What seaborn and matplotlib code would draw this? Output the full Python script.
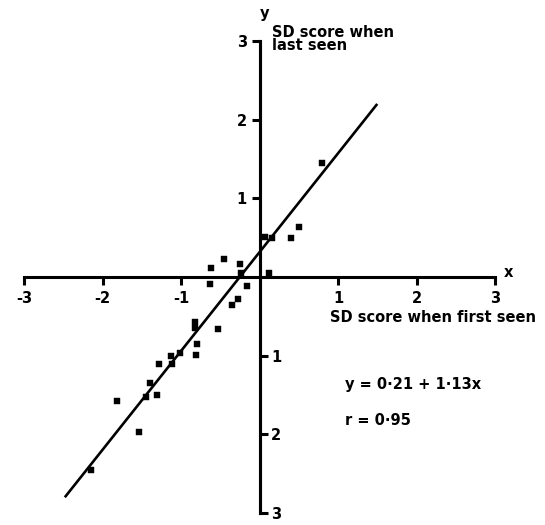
import numpy as np
import pandas as pd
import matplotlib
matplotlib.use("Agg")
import matplotlib.pyplot as plt
import seaborn as sns

# SD scores
first_seen = [0.80, 0.50, 0.40, 0.07, 0.155, 0.125, -0.45, -0.62, -0.25, -0.24,
              -0.63, -0.155, -0.28, -0.35, -0.525, -0.82, -0.82, -0.80, -0.81,
              -1.01, -1.13, -1.11, -1.28, -1.40, -1.44, -1.30, -1.81, -1.53, -2.15]
last_seen = [1.445, 0.63, 0.50, 0.51, 0.50, 0.055, 0.225, 0.11, 0.17, 0.055,
             -0.09, -0.12, -0.28, -0.36, -0.66, -0.57, -0.65, -0.855, -0.99,
             -0.96, -1.00, -1.105, -1.105, -1.35, -1.52, -1.495, -1.58, -1.965, -2.45]

# drawn regression line (end points as seen)
fit_x = [-2.48, 1.50]
fit_y = [-2.80, 2.20]

x_ticks = [-3, -2, -1, 1, 2, 3]
x_tick_labels = ["-3", "-2", "-1", "1", "2", "3"]
y_ticks_pos = [1, 2, 3]
y_ticks_neg = [-1, -2, -3]
y_tick_labels_neg = ["1", "2", "3"]

equation = "y = 0·21 + 1·13x"
corr = "r = 0·95"

df = pd.DataFrame({"first": first_seen, "last": last_seen})

sns.set_theme(style="white")
plt.rcParams["font.family"] = ["DejaVu Sans"]
plt.rcParams["text.color"] = "black"
plt.rcParams["xtick.color"] = "black"
plt.rcParams["ytick.color"] = "black"
plt.rcParams["xtick.labelcolor"] = "black"
plt.rcParams["ytick.labelcolor"] = "black"
FS = 10.5
WEIGHT = "bold"

fig = plt.figure(figsize=(5.45, 5.25), dpi=100)
ax = fig.add_axes([24 / 545, 12 / 525, 471 / 545, 472 / 525])
ax.set_xlim(-3, 3)
ax.set_ylim(-3, 3)

lw_axis = 2.2
for side in ["left", "right", "bottom"]:
    ax.spines[side].set_position(("data", 0))
    ax.spines[side].set_linewidth(lw_axis)
    ax.spines[side].set_color("black")
ax.spines["top"].set_visible(False)

ax.plot(fit_x, fit_y, color="black", linewidth=1.9, solid_capstyle="butt", zorder=3)
sns.scatterplot(data=df, x="first", y="last", marker="s", s=22, color="black",
                edgecolor="black", linewidth=0.3, ax=ax, zorder=4, clip_on=False)

ax.set_xlabel("")
ax.set_ylabel("")

ax.set_xticks(x_ticks)
ax.set_xticklabels(x_tick_labels)
ax.set_yticks(y_ticks_pos)
ax.set_yticklabels([str(t) for t in y_ticks_pos])
ax.set_yticks(y_ticks_neg, minor=True)
ax.set_yticklabels(y_tick_labels_neg, minor=True)

ax.tick_params(axis="x", which="major", direction="out", length=6, width=lw_axis,
               bottom=True, top=False, labelsize=FS, pad=4, colors="black")
ax.tick_params(axis="y", which="major", direction="out", length=6, width=lw_axis,
               left=True, right=False, labelleft=True, labelright=False,
               labelsize=FS, pad=3, colors="black")
ax.tick_params(axis="y", which="minor", direction="out", length=6, width=lw_axis,
               left=False, right=True, labelleft=False, labelright=True,
               labelsize=FS, pad=2.5, colors="black")
for lab in ax.get_xticklabels() + ax.get_yticklabels() + ax.get_yticklabels(minor=True):
    lab.set_fontweight(WEIGHT)

txt = dict(fontsize=FS, fontweight=WEIGHT, color="black", clip_on=False)
ax.text(0.06, 3.35, "y", ha="center", va="center", **txt)
ax.text(0.16, 3.20, "SD score when\nlast seen", ha="left", va="top", linespacing=0.85, **txt)
ax.text(3.17, 0.06, "x", ha="center", va="center", **txt)
ax.text(0.90, -0.52, "SD score when first seen", ha="left", va="center", **txt)
ax.text(1.09, -1.37, equation, ha="left", va="center", **txt)
ax.text(1.09, -1.82, corr, ha="left", va="center", **txt)

fig.savefig("out.png", dpi=100)
